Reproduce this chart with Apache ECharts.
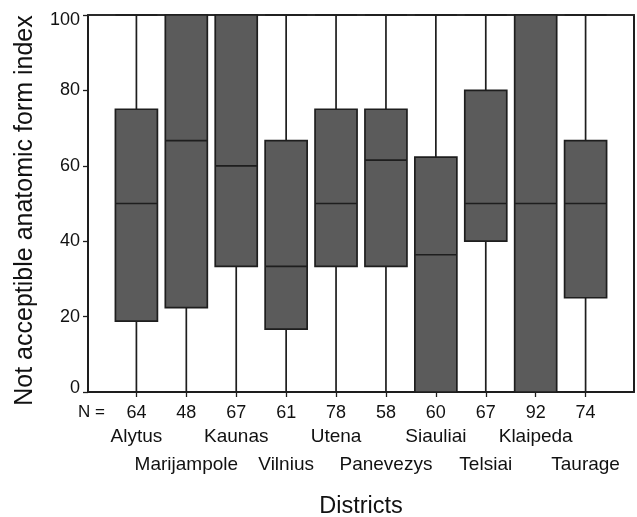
<!DOCTYPE html>
<html>
<head>
<meta charset="utf-8">
<script src="https://cdn.jsdelivr.net/npm/echarts@6/dist/echarts.min.js"></script>
<style>html,body{margin:0;padding:0;background:#fff}#c{width:637px;height:517px}</style>
</head>
<body>
<div id="c"></div>
<script>
const categories = ['Alytus','Marijampole','Kaunas','Vilnius','Utena','Panevezys','Siauliai','Telsiai','Klaipeda','Taurage'];
const counts = [64,48,67,61,78,58,60,67,92,74];
const mins = [0,0,0,0,0,0,0,0,0,0];
const q1s = [18.8,22.4,33.3,16.7,33.3,33.3,0,40,0,25];
const medians = [50,66.7,60,33.3,50,61.5,36.4,50,50,50];
const q3s = [75,100,100,66.7,75,75,62.3,80,100,66.7];
const maxs = [100,100,100,100,100,100,100,100,100,100];

const FONT = '"Liberation Sans", Arial, sans-serif';
const positions = categories.map((c, i) => i);
const evenPos = positions.filter(i => i % 2 === 0);
const oddPos = positions.filter(i => i % 2 === 1);
const boxData = categories.map((c, i) => [i, mins[i], q1s[i], medians[i], q3s[i], maxs[i]]);

function labelAxis(values, fmt, margin, size, extra) {
  return Object.assign({
    type: 'value', position: 'bottom', min: -0.97, max: 9.97,
    splitLine: {show: false}, axisLine: {show: false, onZero: false}, axisTick: {show: false},
    axisLabel: {customValues: values, showMinLabel: true, showMaxLabel: true, hideOverlap: false,
      margin: margin, fontSize: size, fontFamily: FONT, color: '#111', formatter: fmt}
  }, extra || {});
}

const chart = echarts.init(document.getElementById('c'), null, {renderer: 'canvas'});
chart.setOption({
  animation: false,
  backgroundColor: '#fff',
  textStyle: {fontFamily: FONT, color: '#111'},
  grid: {left: 88, right: 3, top: 15, bottom: 125, show: false, outerBoundsMode: 'none', containLabel: false},
  xAxis: [
    labelAxis(positions, v => String(counts[Math.round(v)]), 12, 18, {
      axisLine: {show: true, onZero: false, lineStyle: {color: '#1e1e1e', width: 2}},
      axisTick: {show: true, length: 5, customValues: positions, lineStyle: {color: '#1e1e1e', width: 1.3}},
      name: 'Districts', nameLocation: 'middle', nameGap: 103,
      nameTextStyle: {fontSize: 23.5, fontFamily: FONT, color: '#111'}
    }),
    labelAxis(evenPos, v => categories[Math.round(v)], 35, 19),
    labelAxis(oddPos, v => categories[Math.round(v)], 63, 19),
    {
      type: 'value', position: 'top', min: -0.97, max: 9.97,
      splitLine: {show: false},
      axisLine: {show: true, onZero: false, lineStyle: {color: '#2a2a2a', width: 2}},
      axisTick: {show: false}, axisLabel: {show: false}
    }
  ],
  yAxis: [{
    type: 'value',
    min: 0,
    max: 100,
    interval: 20,
    splitLine: {show: false},
    axisLine: {show: true, onZero: false, lineStyle: {color: '#1e1e1e', width: 2}},
    axisTick: {show: true, length: 5, lineStyle: {color: '#1e1e1e', width: 1.3}},
    axisLabel: {
      margin: 8, color: '#111', fontSize: 18, fontFamily: FONT,
      formatter: function (v) {
        if (v === 0) return '{lo|0}';
        if (v === 100) return '{hi|100}';
        return String(v);
      },
      rich: {
        lo: {fontSize: 18, fontFamily: FONT, color: '#111', padding: [0, 0, 7, 0]},
        hi: {fontSize: 18, fontFamily: FONT, color: '#111', padding: [10, 0, 0, 0]}
      }
    },
    name: 'Not acceptible anatomic form index',
    nameLocation: 'middle',
    nameGap: 50,
    nameTextStyle: {fontSize: 25, fontFamily: FONT, color: '#111', padding: [0, 14, 0, 0]}
  }, {
    type: 'value',
    position: 'right',
    min: 0,
    max: 100,
    splitLine: {show: false},
    axisLine: {show: true, onZero: false, lineStyle: {color: '#1e1e1e', width: 2}},
    axisTick: {show: false},
    axisLabel: {show: false}
  }],
  graphic: [{
    type: 'text',
    left: 78,
    top: 404,
    style: {text: 'N =', fontSize: 17, fontFamily: FONT, fill: '#111'}
  }],
  series: [{
    type: 'boxplot',
    data: boxData,
    boxWidth: [42, 42],
    itemStyle: {color: '#5b5b5b', borderColor: '#1e1e1e', borderWidth: 1.7},
    emphasis: {disabled: true}
  }]
});
</script>
</body>
</html>
